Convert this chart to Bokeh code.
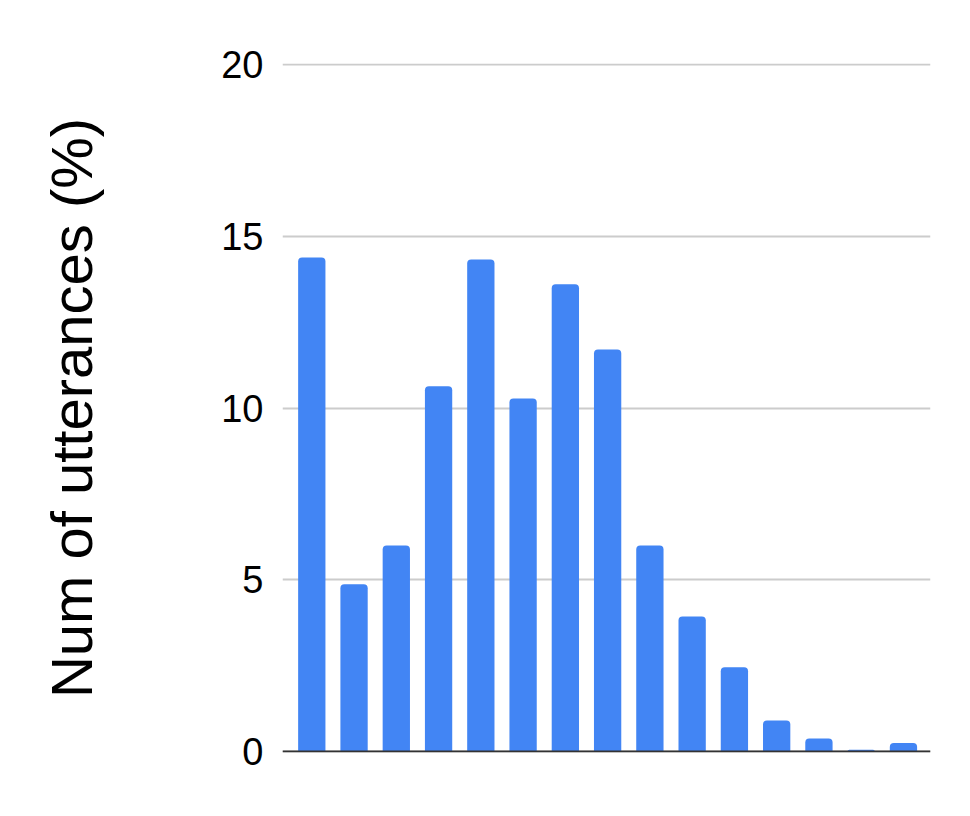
from bokeh.plotting import figure
from bokeh.models import Range1d, FixedTicker, Span, ColumnDataSource
from bokeh.embed import file_html
from bokeh.resources import INLINE

bins = list(range(1, 16))
values = [14.38, 4.87, 6.0, 10.63, 14.32, 10.28, 13.6, 11.7, 6.0, 3.93, 2.45, 0.9, 0.38, 0.05, 0.25]
y_ticks = [0, 5, 10, 15, 20]
y_label = "Num of utterances (%)"

src = ColumnDataSource(dict(x=bins, top=values))

p = figure(width=962, height=808, output_backend="svg", toolbar_location=None,
           x_range=Range1d(0.307, 15.64), y_range=Range1d(-0.03, 20.03),
           min_border_left=282, min_border_right=32, min_border_top=63, min_border_bottom=56)
p.outline_line_color = None
p.background_fill_color = "white"
p.border_fill_color = "white"

p.vbar(x="x", top="top", bottom=0, width=0.646, source=src,
       fill_color="#4285F4", line_color=None, border_radius=(4, 4, 0, 0))

p.xaxis.visible = False
p.xgrid.visible = False

p.yaxis.ticker = FixedTicker(ticks=y_ticks)
p.yaxis.axis_line_color = None
p.yaxis.major_tick_line_color = None
p.yaxis.minor_tick_line_color = None
p.yaxis.major_label_text_font = "Liberation Sans"
p.yaxis.major_label_text_font_size = "38px"
p.yaxis.major_label_text_color = "black"
p.yaxis.major_label_standoff = 13
p.yaxis.axis_label = y_label
p.yaxis.axis_label_text_font = "Liberation Sans"
p.yaxis.axis_label_text_font_size = "58px"
p.yaxis.axis_label_text_font_style = "normal"
p.yaxis.axis_label_text_color = "black"
p.yaxis.axis_label_standoff = 114

p.ygrid.grid_line_color = "#cccccc"
p.ygrid.grid_line_width = 2

p.add_layout(Span(location=0, dimension="width", line_color="#333333", line_width=2))

open("out.html", "w").write(file_html(p, INLINE))
